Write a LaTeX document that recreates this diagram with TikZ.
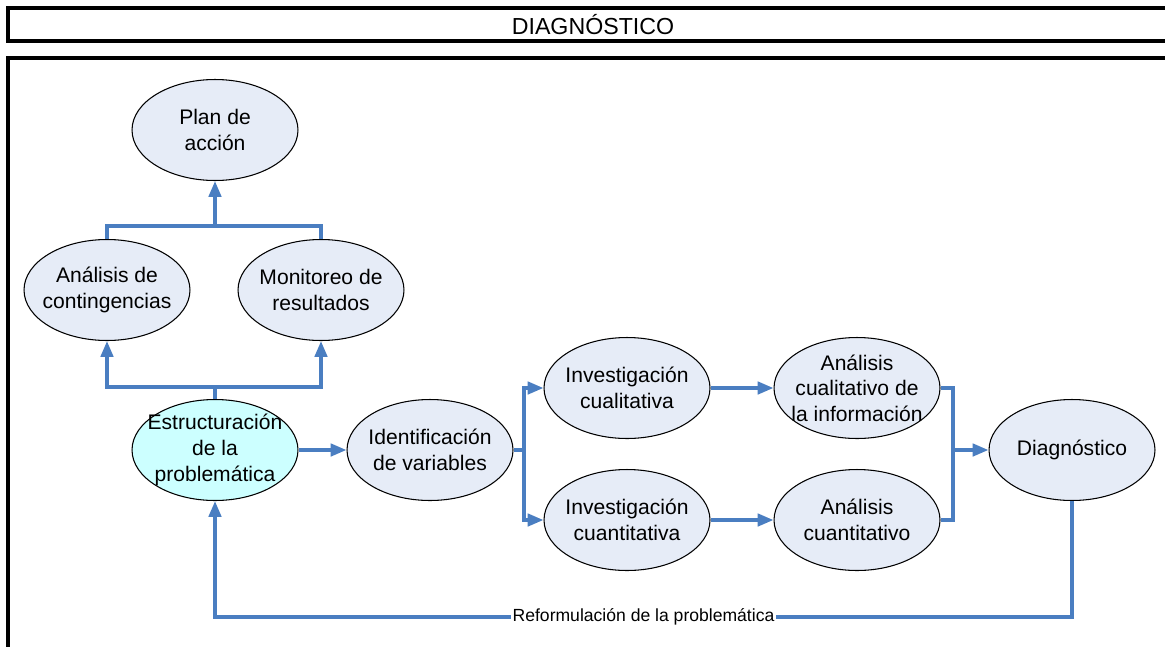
\documentclass[tikz,border=0pt]{standalone}
\usepackage{fontspec}
\setmainfont{Liberation Sans}
\usepackage{tikz}
\usepackage{xcolor}
\usetikzlibrary{shapes.geometric}
\usetikzlibrary{arrows.meta}

\definecolor{linkblue}{RGB}{74,126,193}
\definecolor{blobfill}{RGB}{230,236,247}
\definecolor{startfill}{RGB}{204,255,255}

\begin{document}
\begin{tikzpicture}[x=0.02cm, y=-0.02cm,
    blob/.style={ellipse, draw=black, line width=0.6pt, fill=blobfill,
        minimum width=3.32cm, minimum height=2.02cm, inner sep=0pt},
    txt/.style={align=center, font=\fontsize{12}{14.6}\selectfont},
    link/.style={draw=linkblue, line width=2pt},
    arr/.style={link, -{Triangle[length=9pt, width=7pt]}}]

    \clip (0,0) rectangle (1165,646);
    \useasboundingbox (0,0) rectangle (1165,646);

    % Frames
    \draw[line width=2.2pt] (8,8) rectangle (1180,41);
    \draw[line width=2.2pt] (8,58) rectangle (1180,680);
    \node[txt, font=\fontsize{13.2}{15}\selectfont] (title) at (593,25) {DIAGNÓSTICO};

    % Ellipses
    \node[blob, label={[txt]center:Plan de\\acción}] (plan) at (215,130) {};
    \node[blob, label={[txt]center:Análisis de\\contingencias}] (contin) at (107,290) {};
    \node[blob, label={[txt]center:Monitoreo de\\resultados}] (monit) at (321,290) {};
    \node[blob, fill=startfill, label={[txt]center:Estructuración\\de la\\problemática}] (estruct) at (215,450) {};
    \node[blob, label={[txt]center:Identificación\\de variables}] (ident) at (430,450) {};
    \node[blob, label={[txt]center:Investigación\\cualitativa}] (invcual) at (627,388) {};
    \node[blob, label={[txt]center:Investigación\\cuantitativa}] (invcuant) at (627,520) {};
    \node[blob, label={[txt]center:Análisis\\cualitativo de\\la información}] (anacual) at (857,388) {};
    \node[blob, label={[txt]center:Análisis\\cuantitativo}] (anacuant) at (857,520) {};
    \node[blob, label={[txt]center:Diagnóstico}] (diag) at (1072,450) {};

    % Junction points
    \coordinate (upsplit) at (215,387);
    \coordinate (upjoin) at (215,226);
    \coordinate (split) at (524,450);
    \coordinate (join) at (953,450);
    \coordinate (back) at (215,617);

    % Connectors
    \draw[link] (estruct.north) -- (upsplit);
    \draw[arr] (upsplit) -| (contin.south);
    \draw[arr] (upsplit) -| (monit.south);

    \draw[link] (contin.north) |- (upjoin);
    \draw[link] (monit.north) |- (upjoin);
    \draw[arr] (upjoin) -- (plan.south);

    \draw[arr] (estruct.east) -- (ident.west);

    \draw[link] (ident.east) -- (split);
    \draw[arr] (split) |- (invcual.west);
    \draw[arr] (split) |- (invcuant.west);

    \draw[arr] (invcual.east) -- (anacual.west);
    \draw[arr] (invcuant.east) -- (anacuant.west);

    \draw[link] (anacual.east) -| (join);
    \draw[link] (anacuant.east) -| (join);
    \draw[arr] (join) -- (diag.west);

    % Feedback loop
    \draw[arr] (diag.south) |- (back)
        node[pos=0.75, fill=white, inner sep=1pt, font=\fontsize{10}{12}\selectfont] (reform) {Reformulación de la problemática}
        -- (estruct.south);

\end{tikzpicture}
\end{document}
